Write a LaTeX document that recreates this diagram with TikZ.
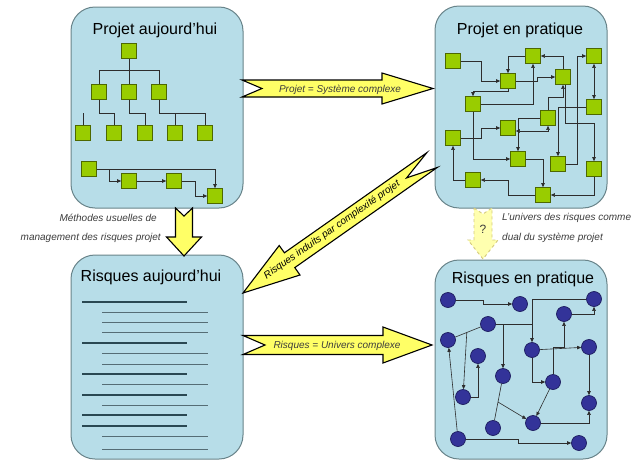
\documentclass[tikz,border=0pt]{standalone}
\usepackage{fontspec}
\setmainfont{Liberation Sans}
\usetikzlibrary{arrows.meta,calc}

\definecolor{panelblue}{RGB}{183,221,232}
\definecolor{panelline}{RGB}{105,132,138}
\definecolor{leafgreen}{RGB}{153,204,0}
\definecolor{leafline}{RGB}{78,104,0}
\definecolor{riskblue}{RGB}{51,51,153}
\definecolor{riskline}{RGB}{28,28,95}
\definecolor{wiregray}{RGB}{45,45,45}
\definecolor{bigyellow}{RGB}{255,255,102}
\definecolor{paleyellow}{RGB}{255,255,175}
\definecolor{paleline}{RGB}{212,202,125}
\definecolor{textline}{RGB}{42,72,82}
\definecolor{labelgray}{RGB}{60,60,60}

\tikzset{
  panel/.style={draw=panelline, fill=panelblue, line width=1pt, rounded corners=24pt},
  title/.style={font=\fontsize{16}{18}\selectfont, inner sep=0pt},
  sq/.style={draw=leafline, fill=leafgreen, line width=0.7pt, minimum size=15pt, inner sep=0pt},
  bead/.style={circle, draw=riskline, fill=riskblue, line width=0.7pt, minimum size=15pt, inner sep=0pt},
  wire/.style={draw=wiregray, line width=0.6pt},
  warr/.style={wire, -{Triangle[length=4pt,width=3.5pt]}},
  wboth/.style={wire, {Triangle[length=4pt,width=3.5pt]}-{Triangle[length=4pt,width=3.5pt]}},
  fat/.style={draw=black, fill=bigyellow, line width=1.1pt, line join=miter},
  ghost/.style={draw=paleline, fill=paleyellow, line width=0.9pt, dashed},
  lbl/.style={font=\fontsize{10}{12}\selectfont\itshape, text=labelgray, inner sep=0pt},
  tlong/.style={draw=textline, line width=1.5pt},
  tshort/.style={draw=textline!80, line width=0.9pt},
}

\begin{document}
\begin{tikzpicture}[x=1pt,y=-1pt]
    \clip (0,0) rectangle (638,461);
    \fill[white] (0,0) rectangle (638,461);

    % panels
    \draw[panel] (71,7) rectangle (243,208);
    \draw[panel] (435,6) rectangle (607,208);
    \draw[panel] (71,255) rectangle (243,459);
    \draw[panel] (435,260) rectangle (607,459);
    \node[title] (tprojnow) at (155,30) {Projet aujourd'hui};
    \node[title] (tprojreal) at (520,30) {Projet en pratique};
    \node[title] (trisknow) at (151,277) {Risques aujourd'hui};
    \node[title] (triskreal) at (523,279) {Risques en pratique};

    % project today: tree
    \node[sq] (t0) at (129,51) {};
    \node[sq] (t1) at (99,92) {};
    \node[sq] (t2) at (129,92) {};
    \node[sq] (t3) at (159,92) {};
    \node[sq] (t4) at (83,133) {};
    \node[sq] (t5) at (114,133) {};
    \node[sq] (t6) at (145,133) {};
    \node[sq] (t7) at (175,133) {};
    \node[sq] (t8) at (205,133) {};
    \draw[wire] (t0) -- (t2);
    \draw[wire] (t1.north) -- ++(0,-13.5) -| (t3.north);
    \draw[wire] (t1) -- ++(0,21) -| (t5);
    \draw[wire] (t4.north) -- ++(0,-12.5);
    \draw[wire] (t2) -- ++(0,21) -| (t6);
    \draw[wire] (t3) -- ++(0,21) -| (t8);
    \draw[wire] (t7) -- ++(0,-20);

    % project today: chain
    \node[sq] (c1) at (89,169) {};
    \node[sq] (c2) at (129,181) {};
    \node[sq] (c3) at (174,181) {};
    \node[sq] (c4) at (215,196) {};
    \draw[warr] (c1) -| (c4);
    \draw[warr] (c1) -- ++(20,0) |- (c2);
    \draw[warr] (c2) -- (c3);
    \draw[warr] (c3) -- ++(21,0) |- (c4);

    % project in practice
    \node[sq] (p1) at (453,61) {};
    \node[sq] (p2) at (533,56) {};
    \node[sq] (p3) at (508,81) {};
    \node[sq] (p4) at (563,77) {};
    \node[sq] (p5) at (594,56) {};
    \node[sq] (p6) at (473,104) {};
    \node[sq] (p7) at (594,107) {};
    \node[sq] (p8) at (548,118) {};
    \node[sq] (p9) at (508,128) {};
    \node[sq] (p10) at (453,138) {};
    \node[sq] (p11) at (518,159) {};
    \node[sq] (p12) at (558,164) {};
    \node[sq] (p13) at (594,169) {};
    \node[sq] (p14) at (473,180) {};
    \node[sq] (p15) at (543,195) {};
    \draw[warr] (p1) -- ++(28,0) |- (p3);
    \draw[warr] (p4) |- (p2);
    \draw[warr] (p2) -| (p3);
    \draw[warr] (p3) -- ++(29,0) |- (p4);
    \draw[warr] (p6) -| (p2);
    \draw[warr] (p3.south) -- ++(0,2.5) -| (p6.north);
    \draw[wboth] (p5) -- (p7);
    \draw[warr] (p12) -- ++(19,0) |- (p5);
    \draw[warr] (p7) -| (p12);
    \draw[warr] (p8) -- ++(0,-21) -| (p4);
    \draw[warr] ([xshift=2pt]p4.south) -- ++(0,38.5) -| (p13);
    \draw[wboth] ([yshift=-3pt]p9.east) -| (p8);
    \draw[warr] (p8) -| (p11);
    \draw[warr] (p10) -- ++(28,0) |- (p9);
    \draw[warr] (p6) |- (p11);
    \draw[warr] (p11) -| (p15);
    \draw[warr] (p13) |- (p15);
    \draw[warr] (p15) -- ++(-35,0) |- (p14);
    \draw[warr] (p14) -| (p10);

    % risks today: text lines
    \foreach \y in {302,343,374,395,415,426}
        \draw[tlong] (82,\y) -- (187,\y);
    \foreach \y in {312,322,332,353,364,384,405,436,449}
        \draw[tshort] (102,\y) -- (208,\y);

    % risks in practice
    \node[bead] (r1) at (448,300) {};
    \node[bead] (r2) at (520,304) {};
    \node[bead] (r3) at (594,299) {};
    \node[bead] (r4) at (564,314) {};
    \node[bead] (r5) at (488,324) {};
    \node[bead] (r6) at (448,340) {};
    \node[bead] (r7) at (532,350) {};
    \node[bead] (r8) at (589,347) {};
    \node[bead] (r9) at (478,356) {};
    \node[bead] (r10) at (503,376) {};
    \node[bead] (r11) at (553,382) {};
    \node[bead] (r12) at (463,397) {};
    \node[bead] (r13) at (589,403) {};
    \node[bead] (r14) at (533,423) {};
    \node[bead] (r15) at (493,428) {};
    \node[bead] (r16) at (458,439) {};
    \node[bead] (r17) at (579,443) {};
    \coordinate (fork1) at ($(r6)!0.47!(r5)$);
    \coordinate (fork2) at ($(r10)!0.5!(r15)$);
    \draw[warr] (r1) -- ++(35,0) |- (r2);
    \draw[warr] (r4) -| (r3);
    \draw[wire] (r6) -- (r5);
    \draw[warr] (fork1) -- (r12);
    \draw[warr] (r12) -| (r9);
    \draw[warr] (r5) -| (r10);
    \draw[wire] (r5) -- ++(44,0);
    \draw[warr] (r3) -| (r7);
    \draw[warr] (r7) -- (r8);
    \draw[warr] (r7) |- (r11);
    \draw[warr] (r11) -- ++(0,-35) -| (r4);
    \draw[warr] (r8) -- (r13);
    \draw[warr] (r14) -| (r13);
    \draw[warr] (r11) -- (r14);
    \draw[wire] (r15) -- (r10);
    \draw[warr] (fork2) -- (r14);
    \draw[warr] (r16) -- ++(60,0) |- (r17);
    \draw[warr] (r16) -- (r6);

    % big arrows between panels
    \draw[fat] (242,80) -- (382,80) -- (382,73) -- (433,88.5) -- (382,104)
        -- (382,97) -- (242,97) -- (262,88.5) -- cycle;
    \node[lbl] (lsys) at (340,90) {Projet = Système complexe};

    \draw[fat] (243,335.5) -- (383,335.5) -- (383,327) -- (432,345) -- (383,363)
        -- (383,354.5) -- (243,354.5) -- (265,345) -- cycle;
    \node[lbl] (lunivers) at (337,346) {Risques = Univers complexe};

    \draw[fat] (175.5,208) -- (184,216) -- (192.5,208) -- (192.5,237) -- (201.5,237)
        -- (184,256) -- (166.5,237) -- (175.5,237) -- cycle;
    \node[lbl, anchor=east] (lmeth1) at (157,218) {Méthodes usuelles de};
    \node[lbl, anchor=east] (lmeth2) at (161,238) {management des risques projet};

    \draw[fat] (243,293) -- (300,275) -- (294.8,267.6) -- (437.2,167.5) -- (406.6,177.9)
        -- (426.8,152.7) -- (284.4,252.8) -- (279.2,245.5) -- cycle;
    \node[lbl, text=black, rotate=35.1] (linduits) at (332,230) {Risques induits par complexité projet};

    \draw[ghost] (474,208) -- (483,214) -- (492,208) -- (492,240) -- (498,240)
        -- (483,259) -- (468,240) -- (474,240) -- cycle;
    \node[font=\fontsize{12}{14}\selectfont, text=labelgray] (qmark) at (483,229) {?};
    \node[lbl, anchor=west] (lunivers1) at (502,218) {L'univers des risques comme};
    \node[lbl, anchor=west] (lunivers2) at (502,238) {dual du système projet};

\end{tikzpicture}
\end{document}
